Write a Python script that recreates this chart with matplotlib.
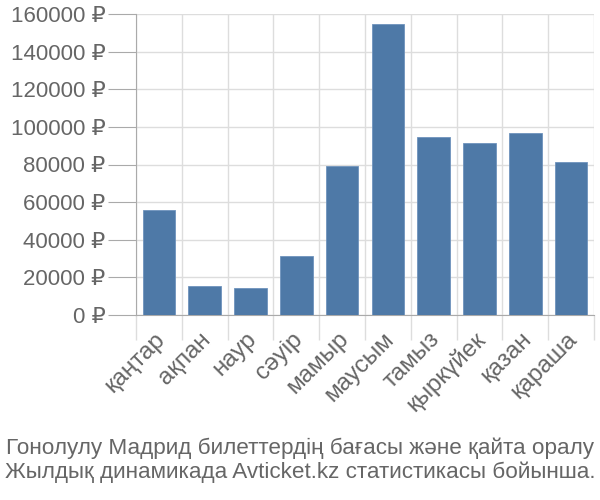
import numpy as np
import matplotlib
matplotlib.use("Agg")
import matplotlib.pyplot as plt
from matplotlib.transforms import ScaledTranslation

months = ["қаңтар", "ақпан", "наур", "сәуір", "мамыр", "маусым",
          "тамыз", "қыркүйек", "қазан", "қараша"]
prices = [55600, 15400, 14400, 31200, 79300, 154500, 94400, 91200, 96500, 81100]
y_ticks = [0, 20000, 40000, 60000, 80000, 100000, 120000, 140000, 160000]
caption = ("Гонолулу Мадрид билеттердің бағасы және қайта оралу\n"
           "Жылдық динамикада Avticket.kz статистикасы бойынша.")

plt.rcParams['font.family'] = ['Liberation Sans', 'DejaVu Sans']
text_color = "#666666"
grid_color = "#dddddd"
axis_color = "#aaaaaa"

fig = plt.figure(figsize=(6, 5), dpi=100)
ax = fig.add_axes([136 / 600, 1 - 315 / 500, 458 / 600, 301 / 500])

x = np.arange(len(months))
ax.bar(x, prices, width=0.71, color="#4e79a7", edgecolor="#6f93bd",
       linewidth=0.6, zorder=3)

ax.set_xlim(-0.5, len(months) - 0.5)
ax.set_ylim(0, 160000)

ax.set_yticks(y_ticks)
ax.set_yticklabels([f"{v} ₽" for v in y_ticks])
ax.set_xticks(x)
ax.set_xticklabels(months, rotation=45, ha="right", va="center",
                   rotation_mode="anchor")
ax.set_xticks(np.arange(-0.5, len(months)), minor=True)

ax.tick_params(axis="y", length=20, color=axis_color, labelsize=16,
               labelcolor=text_color, pad=2)
ax.tick_params(axis="x", which="major", length=0, labelsize=17.5,
               labelcolor=text_color, pad=15)
ax.tick_params(axis="x", which="minor", length=18, color=grid_color, width=1)

# nudge the rotated month labels a little to the right
shift = ScaledTranslation(3 / 100, 0, fig.dpi_scale_trans)
for lbl in ax.get_xticklabels():
    lbl.set_transform(lbl.get_transform() + shift)

ax.grid(axis="y", color=grid_color, linewidth=1, zorder=0)
ax.grid(axis="x", which="minor", color=grid_color, linewidth=1, zorder=0)

for side in ["top", "right"]:
    ax.spines[side].set_visible(False)
ax.spines["left"].set_color(axis_color)
ax.spines["bottom"].set_color(axis_color)
ax.spines["left"].set_bounds(0, 160000)

fig.text(0.5, 1 - 460 / 500, caption, ha="center", va="center",
         fontsize=16.2, color=text_color, linespacing=1.17)

fig.savefig("out.png", dpi=100)
